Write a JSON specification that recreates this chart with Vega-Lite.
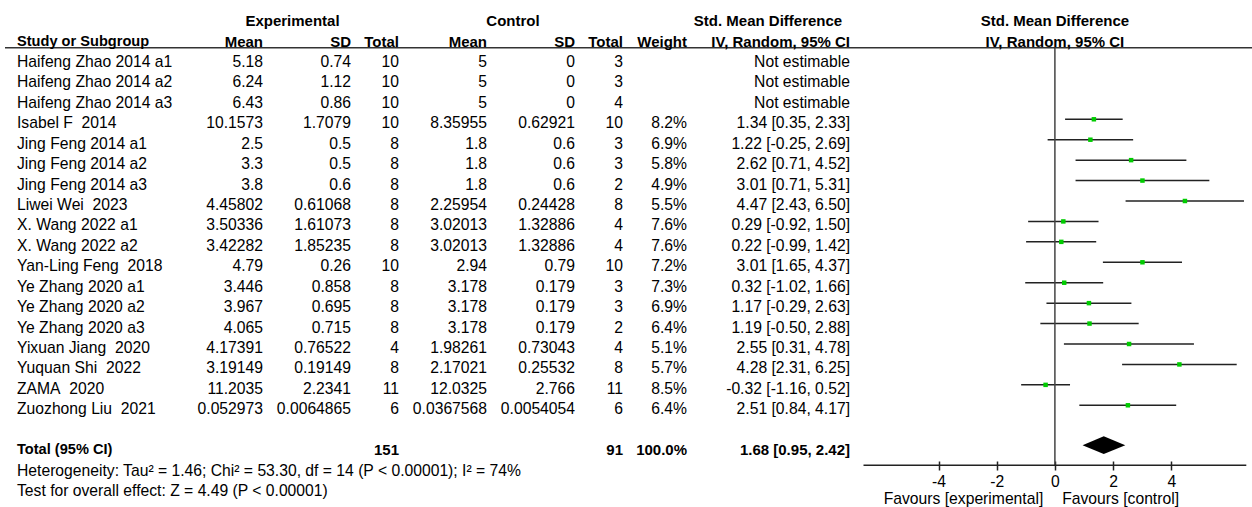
{
  "$schema": "https://vega.github.io/schema/vega-lite/v6.json",
  "width": 1252,
  "height": 507,
  "autosize": "none",
  "padding": 0,
  "background": "white",
  "config": {
    "view": {"stroke": null},
    "text": {"font": "Liberation Sans", "fontSize": 15.7, "color": "#000", "baseline": "middle"}
  },
  "datasets": {
    "studies": [
      {"row": 0, "study": "Haifeng Zhao 2014 a1", "em": 5.18, "esd": 0.74, "en": 10, "cm": 5, "csd": 0, "cn": 3, "ci": "Not estimable"},
      {"row": 1, "study": "Haifeng Zhao 2014 a2", "em": 6.24, "esd": 1.12, "en": 10, "cm": 5, "csd": 0, "cn": 3, "ci": "Not estimable"},
      {"row": 2, "study": "Haifeng Zhao 2014 a3", "em": 6.43, "esd": 0.86, "en": 10, "cm": 5, "csd": 0, "cn": 4, "ci": "Not estimable"},
      {"row": 3, "study": "Isabel F\u00a0 2014", "em": 10.1573, "esd": 1.7079, "en": 10, "cm": 8.35955, "csd": 0.62921, "cn": 10, "weight": 0.082, "smd": 1.34, "lo": 0.35, "hi": 2.33, "ci": "1.34 [0.35, 2.33]"},
      {"row": 4, "study": "Jing Feng 2014 a1", "em": 2.5, "esd": 0.5, "en": 8, "cm": 1.8, "csd": 0.6, "cn": 3, "weight": 0.069, "smd": 1.22, "lo": -0.25, "hi": 2.69, "ci": "1.22 [-0.25, 2.69]"},
      {"row": 5, "study": "Jing Feng 2014 a2", "em": 3.3, "esd": 0.5, "en": 8, "cm": 1.8, "csd": 0.6, "cn": 3, "weight": 0.058, "smd": 2.62, "lo": 0.71, "hi": 4.52, "ci": "2.62 [0.71, 4.52]"},
      {"row": 6, "study": "Jing Feng 2014 a3", "em": 3.8, "esd": 0.6, "en": 8, "cm": 1.8, "csd": 0.6, "cn": 2, "weight": 0.049, "smd": 3.01, "lo": 0.71, "hi": 5.31, "ci": "3.01 [0.71, 5.31]"},
      {"row": 7, "study": "Liwei Wei\u00a0 2023", "em": 4.45802, "esd": 0.61068, "en": 8, "cm": 2.25954, "csd": 0.24428, "cn": 8, "weight": 0.055, "smd": 4.47, "lo": 2.43, "hi": 6.50, "ci": "4.47 [2.43, 6.50]"},
      {"row": 8, "study": "X. Wang 2022 a1", "em": 3.50336, "esd": 1.61073, "en": 8, "cm": 3.02013, "csd": 1.32886, "cn": 4, "weight": 0.076, "smd": 0.29, "lo": -0.92, "hi": 1.50, "ci": "0.29 [-0.92, 1.50]"},
      {"row": 9, "study": "X. Wang 2022 a2", "em": 3.42282, "esd": 1.85235, "en": 8, "cm": 3.02013, "csd": 1.32886, "cn": 4, "weight": 0.076, "smd": 0.22, "lo": -0.99, "hi": 1.42, "ci": "0.22 [-0.99, 1.42]"},
      {"row": 10, "study": "Yan-Ling Feng\u00a0 2018", "em": 4.79, "esd": 0.26, "en": 10, "cm": 2.94, "csd": 0.79, "cn": 10, "weight": 0.072, "smd": 3.01, "lo": 1.65, "hi": 4.37, "ci": "3.01 [1.65, 4.37]"},
      {"row": 11, "study": "Ye Zhang 2020 a1", "em": 3.446, "esd": 0.858, "en": 8, "cm": 3.178, "csd": 0.179, "cn": 3, "weight": 0.073, "smd": 0.32, "lo": -1.02, "hi": 1.66, "ci": "0.32 [-1.02, 1.66]"},
      {"row": 12, "study": "Ye Zhang 2020 a2", "em": 3.967, "esd": 0.695, "en": 8, "cm": 3.178, "csd": 0.179, "cn": 3, "weight": 0.069, "smd": 1.17, "lo": -0.29, "hi": 2.63, "ci": "1.17 [-0.29, 2.63]"},
      {"row": 13, "study": "Ye Zhang 2020 a3", "em": 4.065, "esd": 0.715, "en": 8, "cm": 3.178, "csd": 0.179, "cn": 2, "weight": 0.064, "smd": 1.19, "lo": -0.50, "hi": 2.88, "ci": "1.19 [-0.50, 2.88]"},
      {"row": 14, "study": "Yixuan Jiang\u00a0 2020", "em": 4.17391, "esd": 0.76522, "en": 4, "cm": 1.98261, "csd": 0.73043, "cn": 4, "weight": 0.051, "smd": 2.55, "lo": 0.31, "hi": 4.78, "ci": "2.55 [0.31, 4.78]"},
      {"row": 15, "study": "Yuquan Shi\u00a0 2022", "em": 3.19149, "esd": 0.19149, "en": 8, "cm": 2.17021, "csd": 0.25532, "cn": 8, "weight": 0.057, "smd": 4.28, "lo": 2.31, "hi": 6.25, "ci": "4.28 [2.31, 6.25]"},
      {"row": 16, "study": "ZAMA\u00a0 2020", "em": 11.2035, "esd": 2.2341, "en": 11, "cm": 12.0325, "csd": 2.766, "cn": 11, "weight": 0.085, "smd": -0.32, "lo": -1.16, "hi": 0.52, "ci": "-0.32 [-1.16, 0.52]"},
      {"row": 17, "study": "Zuozhong Liu\u00a0 2021", "em": 0.052973, "esd": 0.0064865, "en": 6, "cm": 0.0367568, "csd": 0.0054054, "cn": 6, "weight": 0.064, "smd": 2.51, "lo": 0.84, "hi": 4.17, "ci": "2.51 [0.84, 4.17]"}
    ],
    "pooled": [
      {"row": 19, "study": "Total (95% CI)", "en": 151, "cn": 91, "weight": 1.0, "smd": 1.68, "lo": 0.95, "hi": 2.42, "ci": "1.68 [0.95, 2.42]"}
    ],
    "notes": [
      {"row": 20, "note": "Heterogeneity: Tau² = 1.46; Chi² = 53.30, df = 14 (P < 0.00001); I² = 74%"},
      {"row": 21, "note": "Test for overall effect: Z = 4.49 (P < 0.00001)"}
    ]
  },
  "layer": [
    {
      "data": {"name": "studies"},
      "mark": {"type": "rule", "color": "#222", "strokeWidth": 1.5, "yOffset": -4},
      "encoding": {
        "x": {"field": "lo", "type": "quantitative", "title": null,
              "scale": {"domain": [-6.58, 6.58], "range": [863.5, 1246.3], "nice": false, "zero": false},
              "axis": {"values": [-4, -2, 0, 2, 4], "labelExpr": "'' + datum.value", "offset": -46, "tickSize": 9, "domain": false, "grid": false, "title": null, "labelPadding": 4.5, "labelFont": "Liberation Sans", "labelFontSize": 15.7, "labelColor": "#000", "tickColor": "#222", "tickWidth": 1.5, "labelFlush": false, "labelOverlap": false}},
        "x2": {"field": "hi"},
        "y": {"field": "row", "type": "quantitative", "title": null, "axis": null,
              "scale": {"domain": [-2, 21], "range": [21.14, 491.0], "nice": false, "zero": false}}
      }
    },
    {
      "data": {"name": "studies"},
      "mark": {"type": "point", "shape": "square", "filled": true, "color": "#00cc00", "opacity": 1, "size": 20, "yOffset": -4},
      "encoding": {
        "x": {"field": "smd", "type": "quantitative", "title": null},
        "y": {"field": "row", "type": "quantitative", "title": null}
      }
    },
    {
      "data": {"name": "pooled"},
      "transform": [
        {"fold": ["lo", "smd", "hi"], "as": ["part", "xv"]},
        {"calculate": "datum.row + (datum.part == 'smd' ? -0.43 : 0)", "as": "ytop"},
        {"calculate": "datum.row + (datum.part == 'smd' ? 0.43 : 0)", "as": "ybot"}
      ],
      "mark": {"type": "area", "color": "#000", "opacity": 1, "yOffset": -5, "y2Offset": -5},
      "encoding": {
        "x": {"field": "xv", "type": "quantitative", "title": null},
        "y": {"field": "ytop", "type": "quantitative", "title": null},
        "y2": {"field": "ybot"}
      }
    },
    {
      "data": {"values": [{}]},
      "mark": {"type": "rule", "color": "#444", "strokeWidth": 1.5},
      "encoding": {"x": {"datum": 0}, "y": {"datum": -0.7}, "y2": {"datum": 19.74}}
    },
    {
      "data": {"values": [{}]},
      "mark": {"type": "rule", "color": "#222", "strokeWidth": 1.5},
      "encoding": {"x": {"datum": -6.58}, "x2": {"datum": 6.58}, "y": {"datum": 19.74}}
    },
    {
      "data": {"values": [{}]},
      "mark": {"type": "rule", "color": "#333", "strokeWidth": 1.6},
      "encoding": {"x": {"value": 5}, "x2": {"value": 1252}, "y": {"datum": -0.7}}
    },
    {
      "data": {"values": [{}]},
      "mark": {"type": "text", "align": "right"},
      "encoding": {"x": {"datum": -0.4}, "y": {"datum": 21.39}, "text": {"value": "Favours [experimental]"}}
    },
    {
      "data": {"values": [{}]},
      "mark": {"type": "text", "align": "left"},
      "encoding": {"x": {"datum": 0.25}, "y": {"datum": 21.39}, "text": {"value": "Favours [control]"}}
    },
    {"data": {"values": [{}]}, "mark": {"type": "text", "align": "center", "fontWeight": "bold", "fontSize": 15},
     "encoding": {"x": {"value": 292.5}, "y": {"datum": -2}, "text": {"value": "Experimental"}}},
    {"data": {"values": [{}]}, "mark": {"type": "text", "align": "center", "fontWeight": "bold", "fontSize": 15},
     "encoding": {"x": {"value": 513}, "y": {"datum": -2}, "text": {"value": "Control"}}},
    {"data": {"values": [{}]}, "mark": {"type": "text", "align": "center", "fontWeight": "bold", "fontSize": 15},
     "encoding": {"x": {"value": 768}, "y": {"datum": -2}, "text": {"value": "Std. Mean Difference"}}},
    {"data": {"values": [{}]}, "mark": {"type": "text", "align": "center", "fontWeight": "bold", "fontSize": 15},
     "encoding": {"x": {"datum": 0}, "y": {"datum": -2}, "text": {"value": "Std. Mean Difference"}}},
    {"data": {"values": [{}]}, "mark": {"type": "text", "align": "center", "fontWeight": "bold", "fontSize": 15},
     "encoding": {"x": {"datum": 0}, "y": {"datum": -1}, "text": {"value": "IV, Random, 95% CI"}}},
    {"data": {"values": [{}]}, "mark": {"type": "text", "align": "left", "fontWeight": "bold", "fontSize": 14.6},
     "encoding": {"x": {"value": 17}, "y": {"datum": -1}, "text": {"value": "Study or Subgroup"}}},
    {"data": {"values": [{}]}, "mark": {"type": "text", "align": "right", "fontWeight": "bold", "fontSize": 15},
     "encoding": {"x": {"value": 263}, "y": {"datum": -1}, "text": {"value": "Mean"}}},
    {"data": {"values": [{}]}, "mark": {"type": "text", "align": "right", "fontWeight": "bold", "fontSize": 15},
     "encoding": {"x": {"value": 351}, "y": {"datum": -1}, "text": {"value": "SD"}}},
    {"data": {"values": [{}]}, "mark": {"type": "text", "align": "right", "fontWeight": "bold", "fontSize": 15},
     "encoding": {"x": {"value": 399}, "y": {"datum": -1}, "text": {"value": "Total"}}},
    {"data": {"values": [{}]}, "mark": {"type": "text", "align": "right", "fontWeight": "bold", "fontSize": 15},
     "encoding": {"x": {"value": 487}, "y": {"datum": -1}, "text": {"value": "Mean"}}},
    {"data": {"values": [{}]}, "mark": {"type": "text", "align": "right", "fontWeight": "bold", "fontSize": 15},
     "encoding": {"x": {"value": 575}, "y": {"datum": -1}, "text": {"value": "SD"}}},
    {"data": {"values": [{}]}, "mark": {"type": "text", "align": "right", "fontWeight": "bold", "fontSize": 15},
     "encoding": {"x": {"value": 623}, "y": {"datum": -1}, "text": {"value": "Total"}}},
    {"data": {"values": [{}]}, "mark": {"type": "text", "align": "right", "fontWeight": "bold", "fontSize": 15},
     "encoding": {"x": {"value": 687}, "y": {"datum": -1}, "text": {"value": "Weight"}}},
    {"data": {"values": [{}]}, "mark": {"type": "text", "align": "right", "fontWeight": "bold", "fontSize": 15},
     "encoding": {"x": {"value": 850}, "y": {"datum": -1}, "text": {"value": "IV, Random, 95% CI"}}},
    {"data": {"name": "studies"}, "mark": {"type": "text", "align": "left"},
     "encoding": {"x": {"value": 17}, "y": {"field": "row", "type": "quantitative"}, "text": {"field": "study", "type": "nominal"}}},
    {"data": {"name": "studies"}, "mark": {"type": "text", "align": "right"},
     "encoding": {"x": {"value": 263}, "y": {"field": "row", "type": "quantitative"}, "text": {"field": "em", "type": "nominal"}}},
    {"data": {"name": "studies"}, "mark": {"type": "text", "align": "right"},
     "encoding": {"x": {"value": 351}, "y": {"field": "row", "type": "quantitative"}, "text": {"field": "esd", "type": "nominal"}}},
    {"data": {"name": "studies"}, "mark": {"type": "text", "align": "right"},
     "encoding": {"x": {"value": 399}, "y": {"field": "row", "type": "quantitative"}, "text": {"field": "en", "type": "nominal"}}},
    {"data": {"name": "studies"}, "mark": {"type": "text", "align": "right"},
     "encoding": {"x": {"value": 487}, "y": {"field": "row", "type": "quantitative"}, "text": {"field": "cm", "type": "nominal"}}},
    {"data": {"name": "studies"}, "mark": {"type": "text", "align": "right"},
     "encoding": {"x": {"value": 575}, "y": {"field": "row", "type": "quantitative"}, "text": {"field": "csd", "type": "nominal"}}},
    {"data": {"name": "studies"}, "mark": {"type": "text", "align": "right"},
     "encoding": {"x": {"value": 623}, "y": {"field": "row", "type": "quantitative"}, "text": {"field": "cn", "type": "nominal"}}},
    {"data": {"name": "studies"}, "transform": [{"filter": "isValid(datum.weight)"}], "mark": {"type": "text", "align": "right"},
     "encoding": {"x": {"value": 687}, "y": {"field": "row", "type": "quantitative"}, "text": {"field": "weight", "type": "quantitative", "format": ".1%"}}},
    {"data": {"name": "studies"}, "mark": {"type": "text", "align": "right"},
     "encoding": {"x": {"value": 850}, "y": {"field": "row", "type": "quantitative"}, "text": {"field": "ci", "type": "nominal"}}},
    {"data": {"name": "pooled"}, "mark": {"type": "text", "align": "left", "fontWeight": "bold", "fontSize": 14.6},
     "encoding": {"x": {"value": 17}, "y": {"field": "row", "type": "quantitative"}, "text": {"field": "study", "type": "nominal"}}},
    {"data": {"name": "pooled"}, "mark": {"type": "text", "align": "right", "fontWeight": "bold", "fontSize": 15},
     "encoding": {"x": {"value": 399}, "y": {"field": "row", "type": "quantitative"}, "text": {"field": "en", "type": "nominal"}}},
    {"data": {"name": "pooled"}, "mark": {"type": "text", "align": "right", "fontWeight": "bold", "fontSize": 15},
     "encoding": {"x": {"value": 623}, "y": {"field": "row", "type": "quantitative"}, "text": {"field": "cn", "type": "nominal"}}},
    {"data": {"name": "pooled"}, "mark": {"type": "text", "align": "right", "fontWeight": "bold", "fontSize": 15},
     "encoding": {"x": {"value": 687}, "y": {"field": "row", "type": "quantitative"}, "text": {"field": "weight", "type": "quantitative", "format": ".1%"}}},
    {"data": {"name": "pooled"}, "mark": {"type": "text", "align": "right", "fontWeight": "bold", "fontSize": 15},
     "encoding": {"x": {"value": 850}, "y": {"field": "row", "type": "quantitative"}, "text": {"field": "ci", "type": "nominal"}}},
    {"data": {"name": "notes"}, "mark": {"type": "text", "align": "left"},
     "encoding": {"x": {"value": 17}, "y": {"field": "row", "type": "quantitative"}, "text": {"field": "note", "type": "nominal"}}}
  ]
}
